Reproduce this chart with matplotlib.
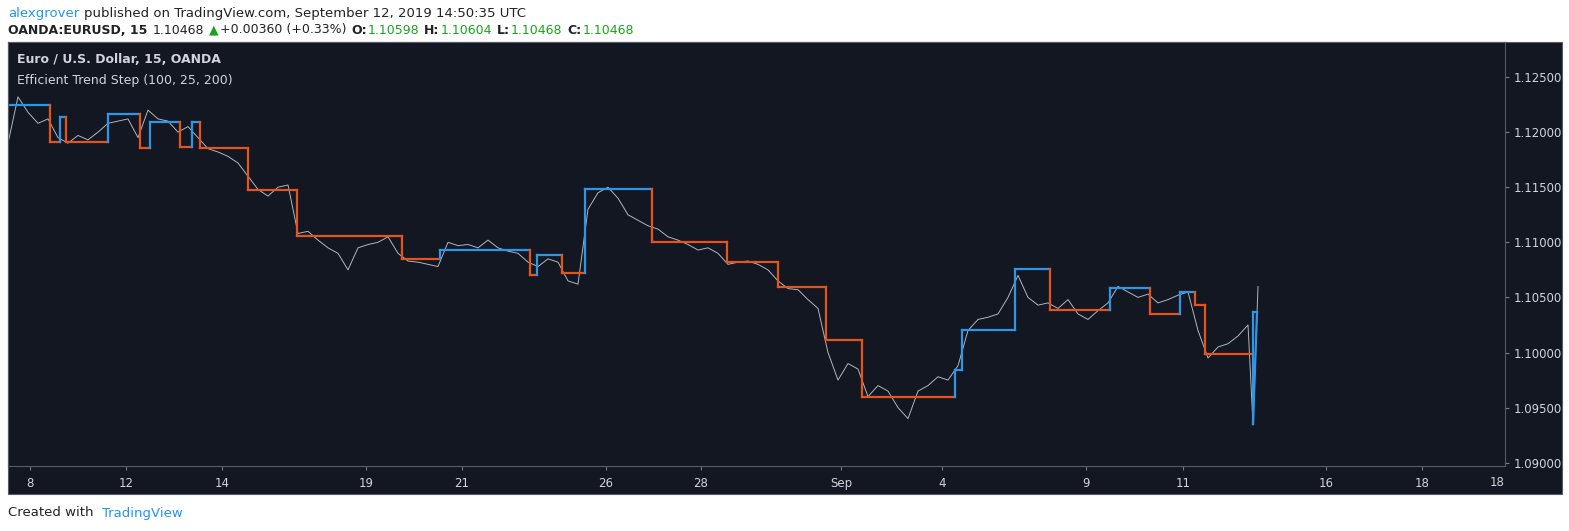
import numpy as np
import matplotlib.pyplot as plt
from matplotlib.patches import Rectangle

# close prices, one every 10 bars-pixels from the start
closes = [1.1190, 1.1232, 1.1218, 1.1208, 1.1212, 1.1195, 1.1190, 1.1197, 1.1193, 1.1200,
          1.1208, 1.1210, 1.1212, 1.1195, 1.1220, 1.1212, 1.1210, 1.1200, 1.1205, 1.1195,
          1.1185, 1.1182, 1.1178, 1.1172, 1.1160, 1.1148, 1.1142, 1.1150, 1.1152, 1.1108,
          1.1110, 1.1102, 1.1095, 1.1090, 1.1075, 1.1095, 1.1098, 1.1100, 1.1105, 1.1090,
          1.1083, 1.1082, 1.1080, 1.1078, 1.1100, 1.1097, 1.1098, 1.1095, 1.1102, 1.1095,
          1.1092, 1.1090, 1.1082, 1.1078, 1.1085, 1.1082, 1.1065, 1.1062, 1.1130, 1.1145,
          1.1150, 1.1140, 1.1125, 1.1120, 1.1115, 1.1112, 1.1105, 1.1102, 1.1098, 1.1093,
          1.1095, 1.1090, 1.1080, 1.1082, 1.1083, 1.1080, 1.1075, 1.1065, 1.1058, 1.1057,
          1.1048, 1.1040, 1.1000, 1.0975, 1.0990, 1.0985, 1.0960, 1.0970, 1.0965, 1.0950,
          1.0940, 1.0965, 1.0970, 1.0978, 1.0975, 1.0988, 1.1020, 1.1030, 1.1032, 1.1035,
          1.1050, 1.1070, 1.1050, 1.1043, 1.1045, 1.1040, 1.1048, 1.1035, 1.1030, 1.1038,
          1.1045, 1.1060, 1.1055, 1.1050, 1.1053, 1.1045, 1.1048, 1.1052, 1.1055, 1.1020,
          1.0995, 1.1005, 1.1008, 1.1015, 1.1025]
tail_x = [1253, 1258]
tail_closes = [1.0935, 1.1060]

# trend step segments: start, end, level, direction
step_start = [8, 50, 60, 66, 108, 140, 150, 180, 192, 200, 248, 297, 402, 440, 530, 537, 562,
              585, 652, 727, 778, 826, 862, 955, 962, 1015, 1050, 1110, 1150, 1180, 1195, 1205, 1253]
step_end = step_start[1:] + [1257]
step_level = [1.12246, 1.1191, 1.1214, 1.1191, 1.12164, 1.11856, 1.12092, 1.11865, 1.12092,
              1.11856, 1.11475, 1.11057, 1.10848, 1.1093, 1.10703, 1.10885, 1.10722, 1.11484,
              1.11003, 1.1082, 1.10594, 1.10113, 1.09596, 1.0984, 1.10204, 1.10758, 1.10386,
              1.10585, 1.1035, 1.1055, 1.1043, 1.09986, 1.10368]
step_up = [1, 0, 1, 0, 1, 0, 1, 0, 1, 0, 0, 0, 0, 1, 0, 1, 0, 1, 0, 0, 0, 0, 0, 1, 1, 1, 0,
           1, 0, 1, 0, 0, 1]

tick_pos = [30, 126, 222, 366, 462, 606, 701, 841, 942, 1086, 1183, 1326, 1422]
tick_labels = ['8', '12', '14', '19', '21', '26', '28', 'Sep', '4', '9', '11', '16', '18']
price_ticks = [1.09, 1.095, 1.10, 1.105, 1.11, 1.115, 1.12, 1.125]

BG = '#131722'
BLUE = '#2f96e6'
ORANGE = '#e5541a'
W, H = 1569, 531

fig = plt.figure(figsize=(W / 100, H / 100), dpi=100)
fig.patch.set_facecolor('white')
fig.patches.append(Rectangle((8 / W, 1 - 494 / H), (1562 - 8) / W, (494 - 42) / H,
                             transform=fig.transFigure, facecolor=BG, edgecolor='#555a66',
                             lw=0.8, zorder=-5))

ax = fig.add_axes([8 / W, 1 - 466 / H, (1505 - 8) / W, (466 - 42) / H])
ax.set_facecolor(BG)
x = list(np.arange(len(closes)) * 10 + 8) + tail_x
ax.plot(x, closes + tail_closes, color='#b2b5be', lw=0.7)

prev = None
for s, e, lv, up in zip(step_start, step_end, step_level, step_up):
    c = BLUE if up else ORANGE
    if prev is not None:
        ax.plot([s, s], [prev, lv], color=c, lw=1.6)
    ax.plot([s, e], [lv, lv], color=c, lw=1.6)
    prev = lv
ax.plot([1253, 1253], [1.09986, 1.0935], color=BLUE, lw=1.6)
ax.plot([1253, 1257], [1.0935, 1.10368], color=BLUE, lw=1.6)

ax.set_xlim(8, 1505)
ax.set_ylim(1.0897, 1.12818)
ax.set_xticks(tick_pos)
ax.set_xticklabels(tick_labels)
ax.set_yticks(price_ticks)
ax.set_yticklabels(['%.5f' % p for p in price_ticks])
ax.yaxis.tick_right()
ax.tick_params(colors='#d1d4dc', labelsize=8.5, length=3, color='#787b86')
ax.tick_params(axis='x', pad=5)
for sp in ax.spines.values():
    sp.set_color('#555a66')
    sp.set_linewidth(0.8)
# last date label sits at the right edge without a tick
ax.text(1497, -0.04, '18', transform=ax.get_xaxis_transform(), color='#d1d4dc',
        fontsize=8.5, ha='center', va='center')

ax.text(0.006, 0.975, 'Euro / U.S. Dollar, 15, OANDA', transform=ax.transAxes,
        color='#d1d4dc', fontsize=9, va='top', fontweight='bold')
ax.text(0.006, 0.925, 'Efficient Trend Step (100, 25, 200)', transform=ax.transAxes,
        color='#d1d4dc', fontsize=9, va='top')


def chain(y, parts, size):
    # place texts one after another on a line
    r = fig.canvas.get_renderer()
    px = 8
    for t, c, w in parts:
        if t == ' ':
            px += 4
            continue
        tx = fig.text(px / W, 1 - y / H, t, color=c, fontsize=size, va='center', fontweight=w)
        px = tx.get_window_extent(r).x1 + 1


chain(13, [('alexgrover', '#2196f3', 'normal'), (' ', '', ''),
           ('published on TradingView.com, September 12, 2019 14:50:35 UTC', '#222222', 'normal')], 9.5)
G = '#1aa31a'
K = '#222222'
chain(30, [('OANDA:EURUSD, 15', K, 'bold'), (' ', '', ''), ('1.10468', K, 'normal'),
           (' ', '', ''), ('\u25b2', G, 'normal'), ('+0.00360 (+0.33%)', K, 'normal'),
           (' ', '', ''), ('O:', K, 'bold'), ('1.10598', G, 'normal'), (' ', '', ''),
           ('H:', K, 'bold'), ('1.10604', G, 'normal'), (' ', '', ''),
           ('L:', K, 'bold'), ('1.10468', G, 'normal'), (' ', '', ''),
           ('C:', K, 'bold'), ('1.10468', G, 'normal')], 9)

fig.text(8 / W, 1 - 513 / H, 'Created with', color='#222222', fontsize=9.5, va='center')
fig.text(102 / W, 1 - 513 / H, 'TradingView', color='#2196f3', fontsize=9.5, va='center')

fig.savefig('out.png', dpi=100, facecolor='white')
